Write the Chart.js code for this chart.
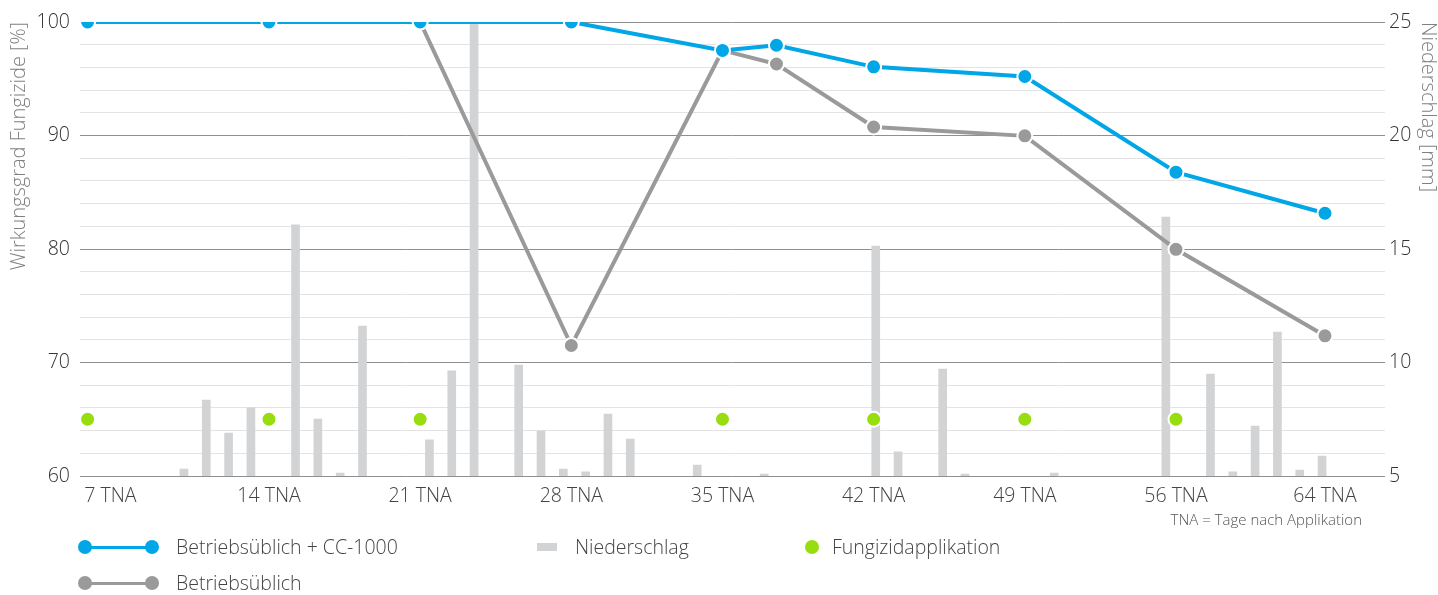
<!DOCTYPE html>
<html lang="de">
<head>
<meta charset="utf-8">
<title>Wirkungsgrad Fungizide</title>
<script src="https://cdn.jsdelivr.net/npm/chart.js@4/dist/chart.umd.min.js"></script>
<style>
  html, body { margin: 0; padding: 0; background: #fff; }
  #wrap { position: relative; width: 1438px; height: 595px; font-family: 'Open Sans', sans-serif; font-weight: 300; color: #444; }
  #chart { position: absolute; left: 0; top: 0; }
  .lg { position: absolute; height: 20px; }
  .lg span.txt { position: absolute; top: -1px; font-size: 19.5px; line-height: 22px; white-space: nowrap; }
  .dot { position: absolute; width: 14px; height: 14px; border-radius: 50%; top: 3px; }
  .bar { position: absolute; height: 3px; top: 8.5px; }
  .rect { position: absolute; width: 20px; height: 8px; top: 6px; }
  #note { position: absolute; right: 76px; top: 509px; font-size: 15px; color: #555; }
</style>
</head>
<body>
<div id="wrap">
  <canvas id="chart" width="1438" height="595"></canvas>
  <div id="legend"></div>
  <div id="note">TNA = Tage nach Applikation</div>
</div>
<script>
// --- Daten ---
const seriesNames = ['Betriebsüblich + CC-1000', 'Betriebsüblich', 'Niederschlag', 'Fungizidapplikation'];

// Boniturtermine (Tage, so wie sie auf der Achse liegen)
const lineDays = [5.6, 14, 21, 28, 35, 37.5, 42, 49, 56, 62.9];
const cc1000 = [100, 100, 100, 100, 97.5, 97.95, 96.05, 95.2, 86.77, 83.15];
const betrieb = [100, 100, 100, 71.5, 97.5, 96.3, 90.75, 89.97, 79.97, 72.35];

// Achsenbeschriftung
const tickDays = [5.6, 14, 21, 28, 35, 42, 49, 56, 62.9];
const tickLabels = ['7 TNA', '14 TNA', '21 TNA', '28 TNA', '35 TNA', '42 TNA', '49 TNA', '56 TNA', '64 TNA'];

// Fungizidapplikationen
const applDays = [5.6, 14, 21, 35, 42, 49, 56];
const applLevel = [65, 65, 65, 65, 65, 65, 65];

// Niederschlag pro Tag [mm]
const rainDays = [];
for (let i = 0; i < 52; i++) rainDays.push(i);
const rain = [
  5.31, 8.35, 6.89, 8.0, 0, 16.06, 7.51, 5.13, 11.6, 0,
  0, 6.59, 9.63, 25.0, 0, 9.89, 6.98, 5.31, 5.18, 7.73,
  6.63, 0, 0, 5.48, 0, 0, 5.09, 0, 0, 0,
  0, 15.13, 6.06, 0, 9.71, 5.09, 0, 0, 0, 5.13,
  0, 0, 0, 0, 16.41, 0, 9.49, 5.18, 7.2, 11.34,
  5.26, 5.88
];

const blue = '#00a6e6';
const grey = '#9a9a9a';
const green = '#97dd0f';
const barGrey = '#d2d3d5';
const fontFam = "'Open Sans', sans-serif";

const xy = (xs, ys) => xs.map((x, i) => ({ x: x, y: ys[i] }));

const pointStyle = (c) => ({
  pointRadius: 7.5,
  pointBackgroundColor: c,
  pointBorderColor: '#fff',
  pointBorderWidth: 2
});

const tickFont = { family: fontFam, size: 19.5, weight: '300' };
const titleFont = { family: fontFam, size: 20, weight: '300', lineHeight: 1 };

new Chart(document.getElementById('chart'), {
  data: {
    datasets: [
      Object.assign({
        type: 'line', label: seriesNames[0], data: xy(lineDays, cc1000),
        xAxisID: 'x', yAxisID: 'y', borderColor: blue, borderWidth: 4, order: 0
      }, pointStyle(blue)),
      Object.assign({
        type: 'line', label: seriesNames[1], data: xy(lineDays, betrieb),
        xAxisID: 'x', yAxisID: 'y', borderColor: grey, borderWidth: 4, order: 1
      }, pointStyle(grey)),
      Object.assign({
        type: 'line', label: seriesNames[3], data: xy(applDays, applLevel),
        xAxisID: 'x', yAxisID: 'y', showLine: false, order: 2
      }, pointStyle(green)),
      {
        type: 'bar', label: seriesNames[2], data: xy(rainDays, rain),
        xAxisID: 'xb', yAxisID: 'y1', backgroundColor: barGrey,
        barThickness: 8, order: 3
      }
    ]
  },
  options: {
    responsive: false,
    animation: false,
    devicePixelRatio: 1,
    layout: { padding: { top: 22, left: 0, right: 0, bottom: 0 } },
    plugins: { legend: { display: false }, tooltip: { enabled: false } },
    scales: {
      x: {
        type: 'linear', position: 'bottom', min: 5.248, max: 65.68, offset: false,
        afterBuildTicks: s => { s.ticks = tickDays.map(v => ({ value: v })); },
        afterFit: s => { s.height = 119; },
        grid: { display: false },
        border: { display: false },
        ticks: {
          autoSkip: false, maxRotation: 0, padding: 1, color: '#444',
          font: tickFont,
          // erste Beschriftung sitzt rechts vom Punkt
          callback: (v, i) => i === 0 ? ' '.repeat(9) + tickLabels[i] : tickLabels[i]
        }
      },
      xb: { type: 'linear', display: false, offset: false, min: -4.48, max: 54.0 },
      y: {
        position: 'left', min: 60, max: 100,
        afterFit: s => { s.width = 80; },
        border: { display: false },
        grid: {
          drawTicks: false,
          color: c => c.tick.value % 10 === 0 ? '#8f8f8f' : '#e3e3e3'
        },
        ticks: {
          stepSize: 2, autoSkip: false, padding: 10, color: '#333',
          font: tickFont,
          callback: v => v % 10 === 0 ? v : ''
        },
        title: {
          display: true, text: 'Wirkungsgrad Fungizide [%]', align: 'end', color: '#808080',
          font: titleFont,
          padding: { top: 9, bottom: 0 }
        }
      },
      y1: {
        position: 'right', min: 5, max: 25,
        afterFit: s => { s.width = 53; },
        border: { display: false },
        grid: { drawOnChartArea: false, drawTicks: false },
        ticks: {
          stepSize: 5, autoSkip: false, padding: 4, color: '#333',
          font: tickFont
        },
        title: {
          display: true, text: 'Niederschlag [mm]', align: 'end', color: '#808080',
          font: titleFont,
          padding: { top: 0, bottom: 0 }
        }
      }
    }
  }
});

// --- Legende ---
const legendDefs = [
  { label: seriesNames[0], kind: 'line', color: blue, left: 78, top: 537 },
  { label: seriesNames[2], kind: 'rect', color: barGrey, left: 537, top: 537 },
  { label: seriesNames[3], kind: 'dot', color: green, left: 805, top: 537 },
  { label: seriesNames[1], kind: 'line', color: grey, left: 78, top: 573 }
];
const legend = document.getElementById('legend');
legendDefs.forEach(d => {
  const el = document.createElement('div');
  el.className = 'lg';
  el.style.left = d.left + 'px';
  el.style.top = d.top + 'px';
  let html = '';
  let textLeft;
  if (d.kind === 'line') {
    html += '<div class="dot" style="left:0;background:' + d.color + '"></div>';
    html += '<div class="bar" style="left:10px;width:60px;background:' + d.color + '"></div>';
    html += '<div class="dot" style="left:67px;background:' + d.color + '"></div>';
    textLeft = 98;
  } else if (d.kind === 'rect') {
    html += '<div class="rect" style="left:0;background:' + d.color + '"></div>';
    textLeft = 38;
  } else {
    html += '<div class="dot" style="left:0;background:' + d.color + '"></div>';
    textLeft = 27;
  }
  html += '<span class="txt" style="left:' + textLeft + 'px">' + d.label + '</span>';
  el.innerHTML = html;
  legend.appendChild(el);
});
</script>
</body>
</html>
